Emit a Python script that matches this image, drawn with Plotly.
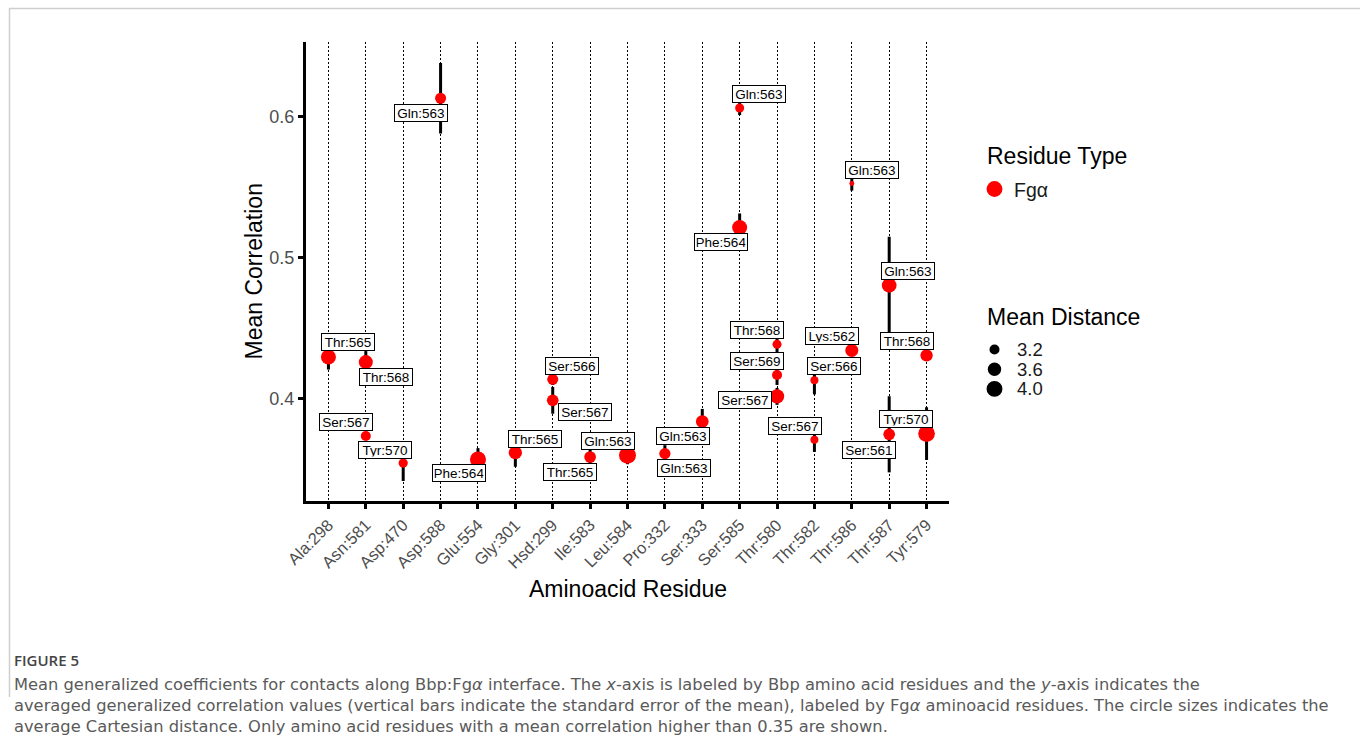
import numpy as np
import plotly.graph_objects as go

# ---- data -------------------------------------------------------------
residues = ["Ala:298", "Asn:581", "Asp:470", "Asp:588", "Glu:554", "Gly:301",
            "Hsd:299", "Ile:583", "Leu:584", "Pro:332", "Ser:333", "Ser:585",
            "Thr:580", "Thr:582", "Thr:586", "Thr:587", "Tyr:579"]

bbp_residue = ["Ala:298", "Asn:581", "Asn:581", "Asp:470", "Asp:588", "Glu:554",
               "Gly:301", "Hsd:299", "Hsd:299", "Ile:583", "Leu:584", "Pro:332",
               "Ser:333", "Ser:585", "Ser:585", "Thr:580", "Thr:580", "Thr:580",
               "Thr:582", "Thr:582", "Thr:586", "Thr:586", "Thr:587", "Thr:587",
               "Tyr:579", "Tyr:579"]

fga_residue = ["Thr:565", "Thr:568", "Ser:567", "Tyr:570", "Gln:563", "Phe:564",
               "Thr:565", "Ser:566", "Ser:567", "Thr:565", "Gln:563", "Gln:563",
               "Gln:563", "Gln:563", "Phe:564", "Thr:568", "Ser:569", "Ser:567",
               "Ser:566", "Ser:567", "Gln:563", "Lys:562", "Gln:563", "Ser:561",
               "Thr:568", "Tyr:570"]

mean_corr = [0.4293, 0.4257, 0.3733, 0.3541, 0.6128, 0.3567,
             0.3615, 0.4135, 0.3986, 0.3584, 0.3596, 0.3608,
             0.3835, 0.6059, 0.5211, 0.4383, 0.4165, 0.4014,
             0.4128, 0.3707, 0.5523, 0.4340, 0.4801, 0.3745,
             0.4305, 0.3750]

sem_corr = [0.0089, 0.0078, 0.0020, 0.0127, 0.0250, 0.0080,
            0.0100, 0.0040, 0.0095, 0.0063, 0.0063, 0.0060,
            0.0090, 0.0050, 0.0100, 0.0070, 0.0070, 0.0060,
            0.0100, 0.0087, 0.0050, 0.0020, 0.0345, 0.0270,
            0.0030, 0.0187]

mean_dist = [3.85, 3.69, 3.20, 3.13, 3.30, 4.02,
             3.59, 3.30, 3.38, 3.38, 4.20, 3.33,
             3.51, 3.11, 3.85, 3.11, 3.20, 3.74,
             3.03, 3.03, 2.88, 3.55, 3.80, 3.38,
             3.46, 4.15]

dist_breaks = [3.2, 3.6, 4.0]
y_ticks = [0.4, 0.5, 0.6]

# repelled label offsets (pixels, right / down) for each point label
label_dx = [20, 20, -19.7, -18.6, -19.7, -19, 19.5, 19.3, 32.7, -20, -19.7, 19.3,
            -19.7, 19.7, -18.5, -20, -20, -32.3, 19.5, -19.7, 20, -19.6, 19.3,
            -19.7, -20, -20.3]
label_dy = [-14.7, 15, -14, -13.2, 14.3, 14, -14, -13.7, 12, 14.6, -14.7, 14,
            14, -14, 14.7, -14, -13.7, 3.2, -13.8, -14, -14, -14.7, -14.5,
            15.2, -14.7, -15]

# ---- size scale (area scale, range 1..6) ------------------------------
DIST_LIMITS = (2.85, 4.2)
SIZE_RANGE = (1.0, 6.0)
PX_PER_SIZE = 2.83


def point_diameter(d):
    t = np.clip((np.asarray(d, float) - DIST_LIMITS[0]) / (DIST_LIMITS[1] - DIST_LIMITS[0]), 0, 1)
    return PX_PER_SIZE * (SIZE_RANGE[0] + (SIZE_RANGE[1] - SIZE_RANGE[0]) * np.sqrt(t))


# ---- layout geometry --------------------------------------------------
W, H = 1360, 736
L, R, T, B = 306, 949, 42, 501
FONT = "Liberation Sans, Arial, Helvetica, sans-serif"
TICK_GREY = "#4D4D4D"


def px(xp):
    return (xp - L) / (R - L)


def py(yp):
    return (B - yp) / (B - T)


fig = go.Figure()

fig.add_trace(go.Scatter(
    x=bbp_residue, y=mean_corr, mode="markers",
    marker=dict(color="#FF0000", size=point_diameter(mean_dist), line=dict(width=0),
                opacity=1),
    error_y=dict(type="data", array=sem_corr, symmetric=True, color="black",
                 thickness=3, width=0),
    text=fga_residue,
    hovertemplate="%{x}<br>%{text}<br>%{y:.3f}<extra></extra>",
    showlegend=False,
))

annotations = []
for bx, lab, yv, dx, dy in zip(bbp_residue, fga_residue, mean_corr, label_dx, label_dy):
    annotations.append(dict(
        x=bx, y=yv, xref="x", yref="y", text=lab, showarrow=False,
        xshift=dx, yshift=-dy, xanchor="center", yanchor="middle",
        font=dict(family=FONT, size=13.5, color="black"),
        bgcolor="white", bordercolor="black", borderwidth=1, borderpad=1.5,
        width=49, height=13,
    ))

# axis titles
annotations.append(dict(x=px((L + R) / 2), y=py(589), xref="paper", yref="paper",
                        text="Aminoacid Residue", showarrow=False,
                        font=dict(family=FONT, size=23, color="black"),
                        xanchor="center", yanchor="middle"))
annotations.append(dict(x=px(253), y=py((T + B) / 2), xref="paper", yref="paper",
                        text="Mean Correlation", showarrow=False, textangle=-90,
                        font=dict(family=FONT, size=23, color="black"),
                        xanchor="center", yanchor="middle"))

# legends
shapes = []
annotations.append(dict(x=px(985), y=py(156), xref="paper", yref="paper",
                        text="Residue Type", showarrow=False,
                        font=dict(family=FONT, size=23, color="black"),
                        xanchor="left", yanchor="middle"))
annotations.append(dict(x=px(1012), y=py(190), xref="paper", yref="paper",
                        text="Fgα", showarrow=False,
                        font=dict(family=FONT, size=19.5, color="#1a1a1a"),
                        xanchor="left", yanchor="middle"))
r_key = point_diameter([4.0])[0] / 2
shapes.append(dict(type="circle", xref="paper", yref="paper",
                   xsizemode="pixel", ysizemode="pixel",
                   xanchor=px(994.5), yanchor=py(189),
                   x0=-r_key, x1=r_key, y0=-r_key, y1=r_key,
                   fillcolor="#FF0000", line=dict(width=0)))

annotations.append(dict(x=px(985), y=py(316.5), xref="paper", yref="paper",
                        text="Mean Distance", showarrow=False,
                        font=dict(family=FONT, size=23, color="black"),
                        xanchor="left", yanchor="middle"))
for i, (brk, dia) in enumerate(zip(dist_breaks, point_diameter(dist_breaks))):
    yk = 349.5 + 19.7 * i
    rr = dia / 2
    shapes.append(dict(type="circle", xref="paper", yref="paper",
                       xsizemode="pixel", ysizemode="pixel",
                       xanchor=px(994.5), yanchor=py(yk),
                       x0=-rr, x1=rr, y0=-rr, y1=rr,
                       fillcolor="black", line=dict(width=0)))
    annotations.append(dict(x=px(1015), y=py(yk), xref="paper", yref="paper",
                            text=f"{brk:.1f}", showarrow=False,
                            font=dict(family=FONT, size=18.5, color="#1a1a1a"),
                            xanchor="left", yanchor="middle"))

# frame lines around the figure panel
shapes.append(dict(type="line", xref="paper", yref="paper",
                   x0=px(9), x1=px(W + 2), y0=py(8.5), y1=py(8.5),
                   line=dict(color="#CFCFCF", width=1.5)))
shapes.append(dict(type="line", xref="paper", yref="paper",
                   x0=px(9.5), x1=px(9.5), y0=py(8), y1=py(697),
                   line=dict(color="#CFCFCF", width=1.5)))

# caption
CAP_FONT = "DejaVu Sans, Open Sans, sans-serif"
caption_lines = [
    "Mean generalized coefficients for contacts along Bbp:Fg<i>α</i> interface. The <i>x</i>-axis is labeled by Bbp amino acid residues and the <i>y</i>-axis indicates the",
    "averaged generalized correlation values (vertical bars indicate the standard error of the mean), labeled by Fg<i>α</i> aminoacid residues. The circle sizes indicates the",
    "average Cartesian distance. Only amino acid residues with a mean correlation higher than 0.35 are shown.",
]
annotations.append(dict(x=px(12), y=py(660), xref="paper", yref="paper",
                        text="FIGURE 5", showarrow=False,
                        font=dict(family="Open Sans, sans-serif", size=15, color="#444444", weight=600),
                        xanchor="left", yanchor="middle"))
for i, line in enumerate(caption_lines):
    annotations.append(dict(x=px(12), y=py(684.5 + 21 * i), xref="paper", yref="paper",
                            text=line, showarrow=False,
                            font=dict(family=CAP_FONT, size=16.3, color="#5a5a5a"),
                            xanchor="left", yanchor="middle"))

fig.update_layout(
    width=W, height=H,
    margin=dict(l=L, r=W - R, t=T, b=H - B, autoexpand=False),
    plot_bgcolor="white", paper_bgcolor="white",
    font=dict(family=FONT),
    showlegend=False,
    annotations=annotations,
    shapes=shapes,
    xaxis=dict(
        type="category", categoryorder="array", categoryarray=residues,
        range=[-0.6, len(residues) - 0.4],
        showline=True, linecolor="black", linewidth=3,
        ticks="outside", ticklen=5, tickwidth=2.5, tickcolor="black",
        showgrid=True, gridcolor="black", gridwidth=1, griddash="2px,2px",
        tickangle=-45, tickfont=dict(family=FONT, size=16.5, color=TICK_GREY),
        zeroline=False, automargin=False,
    ),
    yaxis=dict(
        range=[0.3272, 0.6527], tickvals=y_ticks, ticktext=[f"{v:.1f}" for v in y_ticks],
        showline=True, linecolor="black", linewidth=3,
        ticks="outside", ticklen=5, tickwidth=2.5, tickcolor="black",
        showgrid=False, zeroline=False, automargin=False,
        tickfont=dict(family=FONT, size=18, color=TICK_GREY),
    ),
)

fig.write_html("out.html")
